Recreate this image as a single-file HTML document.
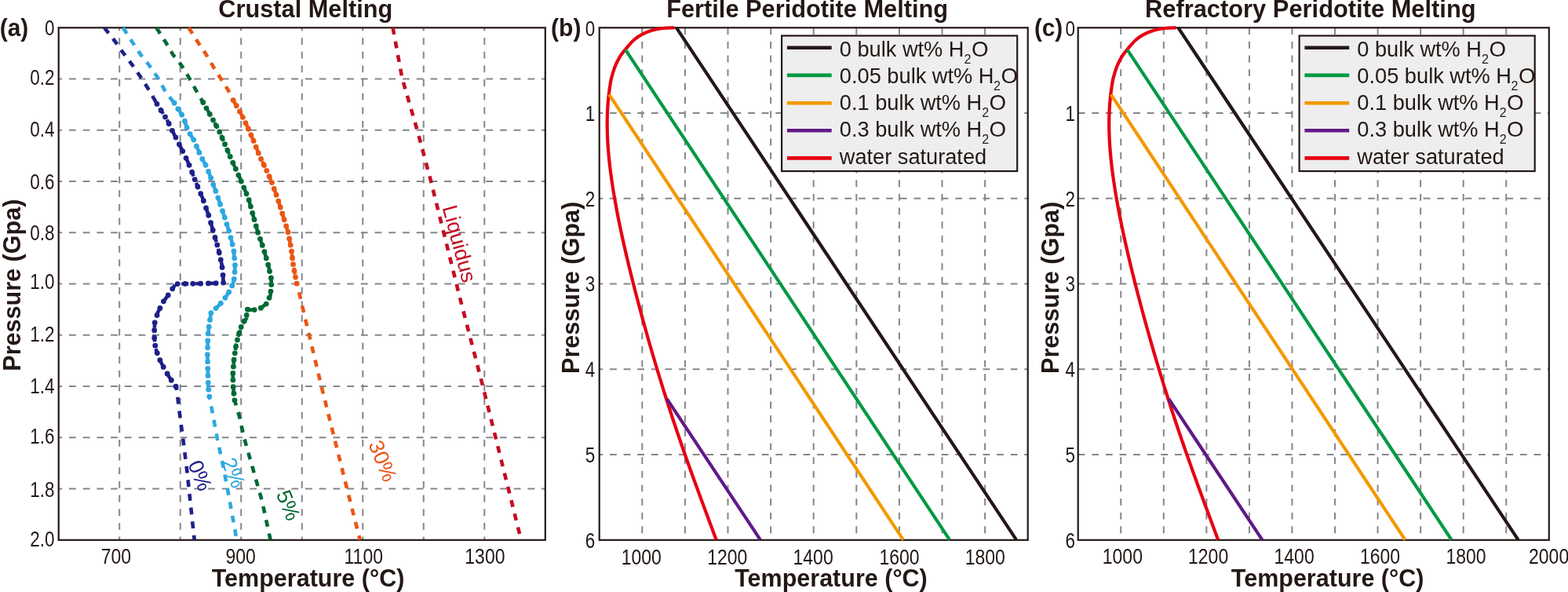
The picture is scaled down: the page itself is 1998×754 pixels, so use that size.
<!DOCTYPE html>
<html><head><meta charset="utf-8"><title>Melting curves</title>
<style>html,body{margin:0;padding:0;background:#fff;overflow:hidden;}svg{display:block;}</style>
</head><body>
<svg width="1998" height="754" viewBox="0 0 1998 754">
<rect width="1998" height="754" fill="#fff"/>
<g stroke="#85868a" stroke-width="2" fill="none">
<line x1="152.21" y1="35.3" x2="152.21" y2="687.8" stroke-dasharray="8.8 8.85" stroke-dashoffset="4.8"/>
<line x1="229.72" y1="35.3" x2="229.72" y2="687.8" stroke-dasharray="8.8 8.85" stroke-dashoffset="4.8"/>
<line x1="307.24" y1="35.3" x2="307.24" y2="687.8" stroke-dasharray="8.8 8.85" stroke-dashoffset="4.8"/>
<line x1="384.75" y1="35.3" x2="384.75" y2="687.8" stroke-dasharray="8.8 8.85" stroke-dashoffset="4.8"/>
<line x1="462.26" y1="35.3" x2="462.26" y2="687.8" stroke-dasharray="8.8 8.85" stroke-dashoffset="4.8"/>
<line x1="539.77" y1="35.3" x2="539.77" y2="687.8" stroke-dasharray="8.8 8.85" stroke-dashoffset="4.8"/>
<line x1="617.29" y1="35.3" x2="617.29" y2="687.8" stroke-dasharray="8.8 8.85" stroke-dashoffset="4.8"/>
<line x1="74.7" y1="100.55" x2="694.8" y2="100.55" stroke-dasharray="8.8 8.91" stroke-dashoffset="4.45"/>
<line x1="74.7" y1="165.8" x2="694.8" y2="165.8" stroke-dasharray="8.8 8.91" stroke-dashoffset="4.45"/>
<line x1="74.7" y1="231.05" x2="694.8" y2="231.05" stroke-dasharray="8.8 8.91" stroke-dashoffset="4.45"/>
<line x1="74.7" y1="296.3" x2="694.8" y2="296.3" stroke-dasharray="8.8 8.91" stroke-dashoffset="4.45"/>
<line x1="74.7" y1="361.55" x2="694.8" y2="361.55" stroke-dasharray="8.8 8.91" stroke-dashoffset="4.45"/>
<line x1="74.7" y1="426.8" x2="694.8" y2="426.8" stroke-dasharray="8.8 8.91" stroke-dashoffset="4.45"/>
<line x1="74.7" y1="492.05" x2="694.8" y2="492.05" stroke-dasharray="8.8 8.91" stroke-dashoffset="4.45"/>
<line x1="74.7" y1="557.3" x2="694.8" y2="557.3" stroke-dasharray="8.8 8.91" stroke-dashoffset="4.45"/>
<line x1="74.7" y1="622.55" x2="694.8" y2="622.55" stroke-dasharray="8.8 8.91" stroke-dashoffset="4.45"/>
</g>
<rect x="74.7" y="35.3" width="620.1" height="652.5" fill="none" stroke="#231815" stroke-width="2.2"/>
<g font-family='"Liberation Sans", Arial, Helvetica, sans-serif' font-size="27" >
<text fill="#1d2088" transform="translate(239,591) rotate(68)">0%</text>
<text fill="#2ea7e0" transform="translate(281.6,587.4) rotate(68)">2%</text>
<text fill="#006934" transform="translate(351.5,628.9) rotate(68)">5%</text>
<text fill="#ea5514" transform="translate(469,565.5) rotate(68)">30%</text>
<text fill="#c30d23" transform="translate(563.5,264.2) rotate(75)">Liquidus</text>
</g>
<g fill="none" stroke-width="4.6" stroke-dasharray="8.8 8.93">
<polyline stroke="#1d2088" points="133,35.3 147.5,53.9 156.8,67.1 168.8,83 180.7,100.3 190,114.9 200.6,133.4 212.5,152 219.2,165.8 227.1,181.2 236.4,199.8 242.4,213.3 249.1,231 258.4,253 265.8,274.3 272.1,296 278.2,316.7 282.8,337.9 284.4,353.8 284.6,360.5 254,361.2 223.9,361.6 215.8,373.9 207.9,384.5 201.2,397.7 197.2,411 196.4,426.9 198,442.8 202.5,456.1 209.2,469.4 217.1,482.6 224.8,493.2"/>
<polyline stroke="#1d2088" stroke-dashoffset="5.08" points="224.8,493.2 228.6,524.5 233.2,559 238.5,601.4 242.4,638.5 247.7,687.6"/>
<polyline stroke="#2ea7e0" points="156.8,35.3 168.8,53.9 179.4,69.8 190,83 201.9,100.3 211.2,117.5 221.8,130.8 233.8,149.4 239.1,165.8 247,178.5 256.3,199.8 263.7,213.3 270.3,231 278.2,253 285.4,274.3 292.3,296 297.6,316.7 299.5,337.9 298.7,353.8 296.8,361.8 291.5,372.4 284.4,383 276.9,391 269,397.6 267,411 264.9,426.9 264.4,450.8 264.9,474.7 265.4,493.2 267,506.5"/>
<polyline stroke="#2ea7e0" stroke-dashoffset="6.47" points="267,506.5 271.6,529.8 276.9,559 284.9,596.1 292.8,638.5 301.6,687.6"/>
<polyline stroke="#006934" points="199.3,35.3 211.2,53.9 220.5,69.8 231.1,83 241.7,100.3 249.7,114.9 259,130.8 269.6,149.4 278.8,165.8 285.5,181.2 293.4,199.8 299.5,213.3 307.4,231 316.7,253 322.5,274.3 328.6,296 335.8,316.7 341.9,337.9 345.4,353.8 345.8,361.8 344.5,376.5 339.2,387.1 331.3,393 322,395 314.5,394 314,405.7 308.6,412.3 304.7,424.3 300.7,440.2 298,458.8 296.7,477.3 297.2,493.2 298.8,509.2"/>
<polyline stroke="#006934" stroke-dashoffset="1.28" points="298.8,509.2 304.8,529.8 311.4,559 322,596.1 334,638.5 344.6,687.6"/>
<polyline stroke="#ea5514" points="240.4,35.3 252.3,53.9 262.9,69.8 272.2,85.7 281.5,100.3 290.8,114.9 297.4,128.1 306.7,144.1 314.6,160 323.9,181.2 331.3,200 337.9,213.3 345.9,231 353.8,253 360.5,274.3 367.1,296 371.1,316.7 373.7,337.9 377.7,359.2 378.2,361"/>
<polyline stroke="#ea5514" stroke-dashoffset="6.18" points="378.2,361 381.7,375 387,397.6 409.3,491 442.2,622.6 458.7,687.6"/>
<polyline stroke="#c30d23" points="500.6,35.3 512.5,100 531.6,165.5 549.1,230.8 586.2,380 615,491 647.8,622.6 664,687.6"/>
</g>
<g fill="#1d2088"><circle cx="200.01" cy="132.38" r="3.4"/><circle cx="205.25" cy="140.66" r="3.4"/><circle cx="210.53" cy="148.92" r="3.4"/><circle cx="215.18" cy="157.52" r="3.4"/><circle cx="219.47" cy="166.33" r="3.4"/><circle cx="223.95" cy="175.05" r="3.4"/><circle cx="228.39" cy="183.78" r="3.4"/><circle cx="232.77" cy="192.55" r="3.4"/><circle cx="237.09" cy="201.35" r="3.4"/><circle cx="241.07" cy="210.3" r="3.4"/><circle cx="244.71" cy="219.4" r="3.4"/><circle cx="248.18" cy="228.56" r="3.4"/><circle cx="251.9" cy="237.63" r="3.4"/><circle cx="255.72" cy="246.65" r="3.4"/><circle cx="259.36" cy="255.75" r="3.4"/><circle cx="262.57" cy="265.01" r="3.4"/><circle cx="265.79" cy="274.26" r="3.4"/><circle cx="268.52" cy="283.67" r="3.4"/><circle cx="271.25" cy="293.09" r="3.4"/><circle cx="274.01" cy="302.49" r="3.4"/><circle cx="276.78" cy="311.89" r="3.4"/><circle cx="279.21" cy="321.38" r="3.4"/><circle cx="281.29" cy="330.95" r="3.4"/><circle cx="283.07" cy="340.58" r="3.4"/><circle cx="284.05" cy="350.33" r="3.4"/><circle cx="284.59" cy="360.11" r="3.4"/><circle cx="275.19" cy="360.72" r="3.4"/><circle cx="265.4" cy="360.94" r="3.4"/><circle cx="255.6" cy="361.16" r="3.4"/><circle cx="245.8" cy="361.31" r="3.4"/><circle cx="236" cy="361.44" r="3.4"/><circle cx="226.2" cy="361.57" r="3.4"/><circle cx="219.78" cy="367.86" r="3.4"/><circle cx="214.26" cy="375.96" r="3.4"/><circle cx="208.41" cy="383.82" r="3.4"/><circle cx="203.85" cy="392.48" r="3.4"/><circle cx="200.06" cy="401.48" r="3.4"/><circle cx="197.24" cy="410.86" r="3.4"/><circle cx="196.71" cy="420.65" r="3.4"/><circle cx="196.75" cy="430.42" r="3.4"/><circle cx="197.74" cy="440.17" r="3.4"/><circle cx="200.29" cy="449.58" r="3.4"/><circle cx="203.81" cy="458.71" r="3.4"/><circle cx="208.22" cy="467.46" r="3.4"/><circle cx="213.12" cy="475.94" r="3.4"/><circle cx="218.3" cy="484.25" r="3.4"/><circle cx="224.06" cy="492.18" r="3.4"/></g>
<g fill="#2ea7e0"><circle cx="222.05" cy="131.19" r="3.4"/><circle cx="226.88" cy="138.67" r="3.4"/><circle cx="231.7" cy="146.15" r="3.4"/><circle cx="235.35" cy="154.19" r="3.4"/><circle cx="238.08" cy="162.66" r="3.4"/><circle cx="242.06" cy="170.55" r="3.4"/><circle cx="246.76" cy="178.11" r="3.4"/><circle cx="250.38" cy="186.24" r="3.4"/><circle cx="253.94" cy="194.39" r="3.4"/><circle cx="257.74" cy="202.43" r="3.4"/><circle cx="262.02" cy="210.23" r="3.4"/><circle cx="265.59" cy="218.36" r="3.4"/><circle cx="268.7" cy="226.7" r="3.4"/><circle cx="271.76" cy="235.06" r="3.4"/><circle cx="274.77" cy="243.44" r="3.4"/><circle cx="277.77" cy="251.81" r="3.4"/><circle cx="280.65" cy="260.24" r="3.4"/><circle cx="283.5" cy="268.67" r="3.4"/><circle cx="286.3" cy="277.12" r="3.4"/><circle cx="288.99" cy="285.6" r="3.4"/><circle cx="291.69" cy="294.08" r="3.4"/><circle cx="294.01" cy="302.67" r="3.4"/><circle cx="296.21" cy="311.29" r="3.4"/><circle cx="297.9" cy="320" r="3.4"/><circle cx="298.69" cy="328.87" r="3.4"/><circle cx="299.48" cy="337.73" r="3.4"/><circle cx="299.06" cy="346.62" r="3.4"/><circle cx="298.3" cy="355.46" r="3.4"/><circle cx="295.73" cy="363.94" r="3.4"/><circle cx="291.75" cy="371.9" r="3.4"/><circle cx="286.86" cy="379.33" r="3.4"/><circle cx="281.34" cy="386.27" r="3.4"/><circle cx="275.05" cy="392.55" r="3.4"/><circle cx="268.85" cy="398.61" r="3.4"/><circle cx="267.54" cy="407.41" r="3.4"/><circle cx="266.31" cy="416.23" r="3.4"/><circle cx="265.14" cy="425.05" r="3.4"/><circle cx="264.75" cy="433.93" r="3.4"/><circle cx="264.57" cy="442.83" r="3.4"/><circle cx="264.42" cy="451.73" r="3.4"/><circle cx="264.61" cy="460.63" r="3.4"/><circle cx="264.79" cy="469.52" r="3.4"/><circle cx="265" cy="478.42" r="3.4"/><circle cx="265.24" cy="487.32" r="3.4"/><circle cx="265.76" cy="496.19" r="3.4"/><circle cx="266.82" cy="505.03" r="3.4"/></g>
<g fill="#006934"><circle cx="258.75" cy="130.38" r="3.4"/><circle cx="263.02" cy="137.85" r="3.4"/><circle cx="267.27" cy="145.32" r="3.4"/><circle cx="271.51" cy="152.8" r="3.4"/><circle cx="275.72" cy="160.31" r="3.4"/><circle cx="279.72" cy="167.91" r="3.4"/><circle cx="283.15" cy="175.79" r="3.4"/><circle cx="286.56" cy="183.69" r="3.4"/><circle cx="289.92" cy="191.61" r="3.4"/><circle cx="293.28" cy="199.52" r="3.4"/><circle cx="296.82" cy="207.36" r="3.4"/><circle cx="300.35" cy="215.2" r="3.4"/><circle cx="303.85" cy="223.06" r="3.4"/><circle cx="307.36" cy="230.91" r="3.4"/><circle cx="310.71" cy="238.83" r="3.4"/><circle cx="314.06" cy="246.75" r="3.4"/><circle cx="317.18" cy="254.75" r="3.4"/><circle cx="319.44" cy="263.05" r="3.4"/><circle cx="321.7" cy="271.35" r="3.4"/><circle cx="324" cy="279.63" r="3.4"/><circle cx="326.33" cy="287.91" r="3.4"/><circle cx="328.67" cy="296.19" r="3.4"/><circle cx="331.49" cy="304.31" r="3.4"/><circle cx="334.32" cy="312.43" r="3.4"/><circle cx="336.93" cy="320.62" r="3.4"/><circle cx="339.31" cy="328.89" r="3.4"/><circle cx="341.68" cy="337.15" r="3.4"/><circle cx="343.58" cy="345.54" r="3.4"/><circle cx="345.41" cy="353.94" r="3.4"/><circle cx="345.74" cy="362.53" r="3.4"/><circle cx="344.98" cy="371.09" r="3.4"/><circle cx="343.08" cy="379.34" r="3.4"/><circle cx="339.23" cy="387.03" r="3.4"/><circle cx="332.37" cy="392.2" r="3.4"/><circle cx="324.2" cy="394.53" r="3.4"/><circle cx="315.71" cy="394.16" r="3.4"/><circle cx="314.18" cy="401.38" r="3.4"/><circle cx="311.29" cy="409.01" r="3.4"/><circle cx="307.26" cy="416.43" r="3.4"/><circle cx="304.62" cy="424.62" r="3.4"/><circle cx="302.52" cy="432.96" r="3.4"/><circle cx="300.54" cy="441.32" r="3.4"/><circle cx="299.3" cy="449.83" r="3.4"/><circle cx="298.07" cy="458.34" r="3.4"/><circle cx="297.43" cy="466.92" r="3.4"/><circle cx="296.83" cy="475.5" r="3.4"/><circle cx="296.91" cy="484.09" r="3.4"/><circle cx="297.18" cy="492.68" r="3.4"/><circle cx="298" cy="501.24" r="3.4"/><circle cx="298.97" cy="509.78" r="3.4"/></g>
<g fill="#ea5514"><circle cx="297.14" cy="127.57" r="3.4"/><circle cx="301.27" cy="134.77" r="3.4"/><circle cx="305.45" cy="141.94" r="3.4"/><circle cx="309.28" cy="149.3" r="3.4"/><circle cx="312.98" cy="156.73" r="3.4"/><circle cx="316.47" cy="164.26" r="3.4"/><circle cx="319.8" cy="171.86" r="3.4"/><circle cx="323.14" cy="179.46" r="3.4"/><circle cx="326.24" cy="187.15" r="3.4"/><circle cx="329.28" cy="194.88" r="3.4"/><circle cx="332.54" cy="202.5" r="3.4"/><circle cx="336.23" cy="209.94" r="3.4"/><circle cx="339.77" cy="217.44" r="3.4"/><circle cx="343.19" cy="225.01" r="3.4"/><circle cx="346.48" cy="232.62" r="3.4"/><circle cx="349.29" cy="240.43" r="3.4"/><circle cx="352.09" cy="248.25" r="3.4"/><circle cx="354.77" cy="256.1" r="3.4"/><circle cx="357.27" cy="264.02" r="3.4"/><circle cx="359.76" cy="271.93" r="3.4"/><circle cx="362.19" cy="279.87" r="3.4"/><circle cx="364.61" cy="287.81" r="3.4"/><circle cx="367.02" cy="295.75" r="3.4"/><circle cx="368.63" cy="303.89" r="3.4"/><circle cx="370.2" cy="312.04" r="3.4"/><circle cx="371.53" cy="320.23" r="3.4"/><circle cx="372.54" cy="328.47" r="3.4"/><circle cx="373.55" cy="336.71" r="3.4"/><circle cx="375.01" cy="344.87" r="3.4"/><circle cx="376.54" cy="353.03" r="3.4"/><circle cx="378.24" cy="361.15" r="3.4"/></g>
<g font-family='"Liberation Sans", Arial, Helvetica, sans-serif' font-size="27.7" fill="#231815">
<text transform="translate(69.45,45.2) scale(0.81,1)" text-anchor="end">0</text>
<text transform="translate(69.45,108.2) scale(0.81,1)" text-anchor="end">0.2</text>
<text transform="translate(69.45,174.4) scale(0.81,1)" text-anchor="end">0.4</text>
<text transform="translate(69.45,240.6) scale(0.81,1)" text-anchor="end">0.6</text>
<text transform="translate(69.45,305.8) scale(0.81,1)" text-anchor="end">0.8</text>
<text transform="translate(69.45,367.8) scale(0.81,1)" text-anchor="end">1.0</text>
<text transform="translate(69.45,435) scale(0.81,1)" text-anchor="end">1.2</text>
<text transform="translate(69.45,500.8) scale(0.81,1)" text-anchor="end">1.4</text>
<text transform="translate(69.45,564.8) scale(0.81,1)" text-anchor="end">1.6</text>
<text transform="translate(69.45,632.5) scale(0.81,1)" text-anchor="end">1.8</text>
<text transform="translate(69.45,696.2) scale(0.81,1)" text-anchor="end">2.0</text>
<text transform="translate(147.9,717.7) scale(0.83,1)" text-anchor="middle">700</text>
<text transform="translate(306.7,717.7) scale(0.83,1)" text-anchor="middle">900</text>
<text transform="translate(463.25,717.7) scale(0.83,1)" text-anchor="middle">1100</text>
<text transform="translate(617.9,717.7) scale(0.83,1)" text-anchor="middle">1300</text>
</g>
<g stroke="#85868a" stroke-width="2" fill="none">
<line x1="818.3" y1="35.3" x2="818.3" y2="687.8" stroke-dasharray="8.8 8.84" stroke-dashoffset="0"/>
<line x1="872.9" y1="35.3" x2="872.9" y2="687.8" stroke-dasharray="8.8 8.84" stroke-dashoffset="0"/>
<line x1="927.5" y1="35.3" x2="927.5" y2="687.8" stroke-dasharray="8.8 8.84" stroke-dashoffset="0"/>
<line x1="982.1" y1="35.3" x2="982.1" y2="687.8" stroke-dasharray="8.8 8.84" stroke-dashoffset="0"/>
<line x1="1036.7" y1="35.3" x2="1036.7" y2="687.8" stroke-dasharray="8.8 8.84" stroke-dashoffset="0"/>
<line x1="1091.3" y1="35.3" x2="1091.3" y2="687.8" stroke-dasharray="8.8 8.84" stroke-dashoffset="0"/>
<line x1="1145.9" y1="35.3" x2="1145.9" y2="687.8" stroke-dasharray="8.8 8.84" stroke-dashoffset="0"/>
<line x1="1200.5" y1="35.3" x2="1200.5" y2="687.8" stroke-dasharray="8.8 8.84" stroke-dashoffset="0"/>
<line x1="1255.1" y1="35.3" x2="1255.1" y2="687.8" stroke-dasharray="8.8 8.84" stroke-dashoffset="0"/>
<line x1="763.7" y1="144.05" x2="1309.7" y2="144.05" stroke-dasharray="8.8 8.81" stroke-dashoffset="4.3"/>
<line x1="763.7" y1="252.8" x2="1309.7" y2="252.8" stroke-dasharray="8.8 8.81" stroke-dashoffset="4.3"/>
<line x1="763.7" y1="361.55" x2="1309.7" y2="361.55" stroke-dasharray="8.8 8.81" stroke-dashoffset="4.3"/>
<line x1="763.7" y1="470.3" x2="1309.7" y2="470.3" stroke-dasharray="8.8 8.81" stroke-dashoffset="4.3"/>
<line x1="763.7" y1="579.05" x2="1309.7" y2="579.05" stroke-dasharray="8.8 8.81" stroke-dashoffset="4.3"/>
</g>
<rect x="763.7" y="35.3" width="546" height="652.5" fill="none" stroke="#231815" stroke-width="2.2"/>
<path d="M859.1,35.4 C856.68,35.5 849.23,35.47 844.6,36 C839.97,36.53 835.73,37.28 831.3,38.6 C826.87,39.92 821.98,41.8 818,43.9 C814.02,46 810.85,48.1 807.4,51.2 C803.95,54.3 800.23,58.97 797.3,62.5 C794.37,66.03 792.13,68.53 789.8,72.4 C787.47,76.27 785.09,81.18 783.3,85.7 C781.51,90.22 780.1,95.45 779.08,99.5 C778.06,103.55 777.78,106.25 777.2,110 C776.62,113.75 776.04,118 775.59,122 C775.14,126 774.78,130 774.5,134 C774.21,138 774.01,142 773.88,146 C773.75,150 773.69,154 773.69,158 C773.7,162 773.77,166 773.9,170 C774.02,174 774.21,178 774.45,182 C774.69,186 774.98,190 775.32,194 C775.66,198 776.05,202 776.47,206 C776.9,210 777.37,214 777.88,218 C778.39,222 778.94,226 779.52,230 C780.1,234 780.71,238 781.36,242 C782,246 782.68,250 783.38,254 C784.08,258 784.81,262 785.56,266 C786.31,270 787.09,274 787.89,278 C788.68,282 789.51,286 790.34,290 C791.18,294 792.04,298 792.92,302 C793.79,306 794.69,310 795.6,314 C796.5,318 797.43,322 798.37,326 C799.31,330 800.26,334 801.23,338 C802.2,342 803.18,346 804.17,350 C805.16,354 806.17,358 807.18,362 C808.2,366 809.23,370 810.26,374 C811.3,378 812.35,382 813.41,386 C814.47,390 815.55,394 816.63,398 C817.71,402 818.8,406 819.9,410 C821.01,414 822.12,418 823.24,422 C824.37,426 825.5,430 826.64,434 C827.79,438 828.94,442 830.1,446 C831.27,450 832.44,454 833.63,458 C834.82,462 836.01,466 837.22,470 C838.43,474 839.64,478 840.87,482 C842.1,486 843.34,490 844.59,494 C845.84,498 847.11,502 848.38,506 C849.65,510 850.94,514 852.23,518 C853.53,522 854.84,526 856.15,530 C857.47,534 858.8,538 860.14,542 C861.48,546 862.84,550 864.2,554 C865.56,558 866.94,562 868.32,566 C869.71,570 871.1,574 872.51,578 C873.91,582 875.33,586 876.75,590 C878.18,594 879.61,598 881.05,602 C882.49,606 883.95,610 885.4,614 C886.86,618 888.33,622 889.8,626 C891.27,630 892.74,634 894.23,638 C895.71,642 897.19,646 898.68,650 C900.16,654 901.66,658 903.14,662 C904.63,666 906.03,669.73 907.61,674 C909.2,678.27 911.81,685.33 912.65,687.6" fill="none" stroke="#e60012" stroke-width="4.2"/>
<line x1="797" y1="63.3" x2="1210.1" y2="687.6" stroke="#009944" stroke-width="4.2"/>
<line x1="776.2" y1="120.3" x2="1151" y2="687.6" stroke="#f39800" stroke-width="4.2"/>
<line x1="849.9" y1="508.2" x2="968.9" y2="687.6" stroke="#601986" stroke-width="4.2"/>
<line x1="861.9" y1="35.3" x2="1295.1" y2="687.6" stroke="#231815" stroke-width="4.2"/>
<rect x="996.1" y="45.5" width="300.1" height="172.5" fill="#eeeeee" stroke="#231815" stroke-width="2.2"/>
<line x1="1002.9" y1="60.7" x2="1059.7" y2="60.7" stroke="#231815" stroke-width="4.6"/>
<line x1="1002.9" y1="95.9" x2="1059.7" y2="95.9" stroke="#009944" stroke-width="4.6"/>
<line x1="1002.9" y1="131.2" x2="1059.7" y2="131.2" stroke="#f39800" stroke-width="4.6"/>
<line x1="1002.9" y1="166.2" x2="1059.7" y2="166.2" stroke="#601986" stroke-width="4.6"/>
<line x1="1002.9" y1="201.4" x2="1059.7" y2="201.4" stroke="#e60012" stroke-width="4.6"/>
<g font-family='"Liberation Sans", Arial, Helvetica, sans-serif' font-size="27.7" fill="#231815">
<text x="1069.8" y="71.7" textLength="158.64" lengthAdjust="spacingAndGlyphs">0 bulk wt% H</text>
<text x="1228.5" y="80.6" font-size="16">2</text>
<text x="1237.9" y="71.7">O</text>
<text x="1069.8" y="105.6" textLength="196.74" lengthAdjust="spacingAndGlyphs">0.05 bulk wt% H</text>
<text x="1266.1" y="114.5" font-size="16">2</text>
<text x="1275.5" y="105.6">O</text>
<text x="1069.8" y="139.9" textLength="181.44" lengthAdjust="spacingAndGlyphs">0.1 bulk wt% H</text>
<text x="1251.2" y="148.8" font-size="16">2</text>
<text x="1260.6" y="139.9">O</text>
<text x="1069.8" y="174.4" textLength="181.44" lengthAdjust="spacingAndGlyphs">0.3 bulk wt% H</text>
<text x="1251.2" y="183.3" font-size="16">2</text>
<text x="1260.6" y="174.4">O</text>
<text x="1069.8" y="208.8" textLength="187.35" lengthAdjust="spacingAndGlyphs">water saturated</text>
</g>
<g font-family='"Liberation Sans", Arial, Helvetica, sans-serif' font-size="27.7" fill="#231815">
<text transform="translate(758.35,45.5) scale(0.81,1)" text-anchor="end">0</text>
<text transform="translate(758.35,153.8) scale(0.81,1)" text-anchor="end">1</text>
<text transform="translate(758.35,262.5) scale(0.81,1)" text-anchor="end">2</text>
<text transform="translate(758.35,371.2) scale(0.81,1)" text-anchor="end">3</text>
<text transform="translate(758.35,480) scale(0.81,1)" text-anchor="end">4</text>
<text transform="translate(758.35,588.8) scale(0.81,1)" text-anchor="end">5</text>
<text transform="translate(758.35,697.5) scale(0.81,1)" text-anchor="end">6</text>
<text transform="translate(817.3,718.9) scale(0.83,1)" text-anchor="middle">1000</text>
<text transform="translate(926.7,718.9) scale(0.83,1)" text-anchor="middle">1200</text>
<text transform="translate(1036.1,718.9) scale(0.83,1)" text-anchor="middle">1400</text>
<text transform="translate(1145.95,718.9) scale(0.83,1)" text-anchor="middle">1600</text>
<text transform="translate(1255.3,718.9) scale(0.83,1)" text-anchor="middle">1800</text>
</g>
<g stroke="#85868a" stroke-width="2" fill="none">
<line x1="1428.25" y1="35.3" x2="1428.25" y2="687.8" stroke-dasharray="8.8 8.84" stroke-dashoffset="0"/>
<line x1="1482.81" y1="35.3" x2="1482.81" y2="687.8" stroke-dasharray="8.8 8.84" stroke-dashoffset="0"/>
<line x1="1537.36" y1="35.3" x2="1537.36" y2="687.8" stroke-dasharray="8.8 8.84" stroke-dashoffset="0"/>
<line x1="1591.92" y1="35.3" x2="1591.92" y2="687.8" stroke-dasharray="8.8 8.84" stroke-dashoffset="0"/>
<line x1="1646.47" y1="35.3" x2="1646.47" y2="687.8" stroke-dasharray="8.8 8.84" stroke-dashoffset="0"/>
<line x1="1701.03" y1="35.3" x2="1701.03" y2="687.8" stroke-dasharray="8.8 8.84" stroke-dashoffset="0"/>
<line x1="1755.58" y1="35.3" x2="1755.58" y2="687.8" stroke-dasharray="8.8 8.84" stroke-dashoffset="0"/>
<line x1="1810.14" y1="35.3" x2="1810.14" y2="687.8" stroke-dasharray="8.8 8.84" stroke-dashoffset="0"/>
<line x1="1864.69" y1="35.3" x2="1864.69" y2="687.8" stroke-dasharray="8.8 8.84" stroke-dashoffset="0"/>
<line x1="1919.25" y1="35.3" x2="1919.25" y2="687.8" stroke-dasharray="8.8 8.84" stroke-dashoffset="0"/>
<line x1="1373.7" y1="144.05" x2="1973.8" y2="144.05" stroke-dasharray="8.8 8.8" stroke-dashoffset="0"/>
<line x1="1373.7" y1="252.8" x2="1973.8" y2="252.8" stroke-dasharray="8.8 8.8" stroke-dashoffset="0"/>
<line x1="1373.7" y1="361.55" x2="1973.8" y2="361.55" stroke-dasharray="8.8 8.8" stroke-dashoffset="0"/>
<line x1="1373.7" y1="470.3" x2="1973.8" y2="470.3" stroke-dasharray="8.8 8.8" stroke-dashoffset="0"/>
<line x1="1373.7" y1="579.05" x2="1973.8" y2="579.05" stroke-dasharray="8.8 8.8" stroke-dashoffset="0"/>
</g>
<rect x="1373.7" y="35.3" width="600.1" height="652.5" fill="none" stroke="#231815" stroke-width="2.2"/>
<path d="M1498.6,35.4 C1496.18,35.5 1488.73,35.47 1484.1,36 C1479.47,36.53 1475.23,37.28 1470.8,38.6 C1466.37,39.92 1461.48,41.8 1457.5,43.9 C1453.52,46 1450.35,48.1 1446.9,51.2 C1443.45,54.3 1439.73,58.97 1436.8,62.5 C1433.87,66.03 1431.63,68.53 1429.3,72.4 C1426.97,76.27 1424.59,81.18 1422.8,85.7 C1421.01,90.22 1419.6,95.45 1418.58,99.5 C1417.56,103.55 1417.28,106.25 1416.7,110 C1416.12,113.75 1415.54,118 1415.09,122 C1414.64,126 1414.28,130 1414,134 C1413.71,138 1413.51,142 1413.38,146 C1413.25,150 1413.19,154 1413.19,158 C1413.2,162 1413.27,166 1413.4,170 C1413.52,174 1413.71,178 1413.95,182 C1414.19,186 1414.48,190 1414.82,194 C1415.16,198 1415.55,202 1415.97,206 C1416.4,210 1416.87,214 1417.38,218 C1417.89,222 1418.44,226 1419.02,230 C1419.6,234 1420.21,238 1420.86,242 C1421.5,246 1422.18,250 1422.88,254 C1423.58,258 1424.31,262 1425.06,266 C1425.81,270 1426.59,274 1427.39,278 C1428.18,282 1429.01,286 1429.84,290 C1430.68,294 1431.54,298 1432.42,302 C1433.29,306 1434.19,310 1435.1,314 C1436,318 1436.93,322 1437.87,326 C1438.81,330 1439.76,334 1440.73,338 C1441.7,342 1442.68,346 1443.67,350 C1444.66,354 1445.67,358 1446.68,362 C1447.7,366 1448.73,370 1449.76,374 C1450.8,378 1451.85,382 1452.91,386 C1453.97,390 1455.05,394 1456.13,398 C1457.21,402 1458.3,406 1459.4,410 C1460.51,414 1461.62,418 1462.74,422 C1463.87,426 1465,430 1466.14,434 C1467.29,438 1468.44,442 1469.6,446 C1470.77,450 1471.94,454 1473.13,458 C1474.32,462 1475.51,466 1476.72,470 C1477.93,474 1479.14,478 1480.37,482 C1481.6,486 1482.84,490 1484.09,494 C1485.34,498 1486.61,502 1487.88,506 C1489.15,510 1490.44,514 1491.73,518 C1493.03,522 1494.34,526 1495.65,530 C1496.97,534 1498.3,538 1499.64,542 C1500.98,546 1502.34,550 1503.7,554 C1505.06,558 1506.44,562 1507.82,566 C1509.21,570 1510.6,574 1512.01,578 C1513.41,582 1514.83,586 1516.25,590 C1517.68,594 1519.11,598 1520.55,602 C1521.99,606 1523.45,610 1524.9,614 C1526.36,618 1527.83,622 1529.3,626 C1530.77,630 1532.24,634 1533.73,638 C1535.21,642 1536.69,646 1538.18,650 C1539.66,654 1541.16,658 1542.64,662 C1544.13,666 1545.53,669.73 1547.11,674 C1548.7,678.27 1551.31,685.33 1552.15,687.6" fill="none" stroke="#e60012" stroke-width="4.2"/>
<line x1="1436.5" y1="63.3" x2="1849.6" y2="687.6" stroke="#009944" stroke-width="4.2"/>
<line x1="1415.7" y1="120.3" x2="1790.5" y2="687.6" stroke="#f39800" stroke-width="4.2"/>
<line x1="1489.4" y1="508.2" x2="1608.4" y2="687.6" stroke="#601986" stroke-width="4.2"/>
<line x1="1501.4" y1="35.3" x2="1934.6" y2="687.6" stroke="#231815" stroke-width="4.2"/>
<rect x="1655.6" y="45.5" width="300.1" height="172.5" fill="#eeeeee" stroke="#231815" stroke-width="2.2"/>
<line x1="1662.4" y1="60.7" x2="1719.2" y2="60.7" stroke="#231815" stroke-width="4.6"/>
<line x1="1662.4" y1="95.9" x2="1719.2" y2="95.9" stroke="#009944" stroke-width="4.6"/>
<line x1="1662.4" y1="131.2" x2="1719.2" y2="131.2" stroke="#f39800" stroke-width="4.6"/>
<line x1="1662.4" y1="166.2" x2="1719.2" y2="166.2" stroke="#601986" stroke-width="4.6"/>
<line x1="1662.4" y1="201.4" x2="1719.2" y2="201.4" stroke="#e60012" stroke-width="4.6"/>
<g font-family='"Liberation Sans", Arial, Helvetica, sans-serif' font-size="27.7" fill="#231815">
<text x="1729.3" y="71.7" textLength="158.64" lengthAdjust="spacingAndGlyphs">0 bulk wt% H</text>
<text x="1888" y="80.6" font-size="16">2</text>
<text x="1897.4" y="71.7">O</text>
<text x="1729.3" y="105.6" textLength="196.74" lengthAdjust="spacingAndGlyphs">0.05 bulk wt% H</text>
<text x="1925.6" y="114.5" font-size="16">2</text>
<text x="1935" y="105.6">O</text>
<text x="1729.3" y="139.9" textLength="181.44" lengthAdjust="spacingAndGlyphs">0.1 bulk wt% H</text>
<text x="1910.7" y="148.8" font-size="16">2</text>
<text x="1920.1" y="139.9">O</text>
<text x="1729.3" y="174.4" textLength="181.44" lengthAdjust="spacingAndGlyphs">0.3 bulk wt% H</text>
<text x="1910.7" y="183.3" font-size="16">2</text>
<text x="1920.1" y="174.4">O</text>
<text x="1729.3" y="208.8" textLength="187.35" lengthAdjust="spacingAndGlyphs">water saturated</text>
</g>
<g font-family='"Liberation Sans", Arial, Helvetica, sans-serif' font-size="27.7" fill="#231815">
<text transform="translate(1369.95,45.5) scale(0.81,1)" text-anchor="end">0</text>
<text transform="translate(1369.95,153.8) scale(0.81,1)" text-anchor="end">1</text>
<text transform="translate(1369.95,262.5) scale(0.81,1)" text-anchor="end">2</text>
<text transform="translate(1369.95,371.2) scale(0.81,1)" text-anchor="end">3</text>
<text transform="translate(1369.95,480) scale(0.81,1)" text-anchor="end">4</text>
<text transform="translate(1369.95,588.8) scale(0.81,1)" text-anchor="end">5</text>
<text transform="translate(1369.95,697.5) scale(0.81,1)" text-anchor="end">6</text>
<text transform="translate(1430.35,717.8) scale(0.83,1)" text-anchor="middle">1000</text>
<text transform="translate(1539.6,717.8) scale(0.83,1)" text-anchor="middle">1200</text>
<text transform="translate(1649.1,717.8) scale(0.83,1)" text-anchor="middle">1400</text>
<text transform="translate(1758.5,717.8) scale(0.83,1)" text-anchor="middle">1600</text>
<text transform="translate(1868,717.8) scale(0.83,1)" text-anchor="middle">1800</text>
<text transform="translate(1973.6,717.8) scale(0.83,1)" text-anchor="middle">2000</text>
</g>
<g font-family='"Liberation Sans", Arial, Helvetica, sans-serif' font-weight="bold" font-size="31.2" fill="#231815">
<text x="278.3" y="22.1" textLength="222" lengthAdjust="spacingAndGlyphs">Crustal Melting</text>
<text x="849.2" y="22.1" textLength="358.9" lengthAdjust="spacingAndGlyphs">Fertile Peridotite Melting</text>
<text x="1459" y="22.1" textLength="421.6" lengthAdjust="spacingAndGlyphs">Refractory Peridotite Melting</text>
<text x="-0.3" y="45.5" textLength="36.5" lengthAdjust="spacingAndGlyphs">(a)</text>
<text x="702" y="45.5" textLength="38.5" lengthAdjust="spacingAndGlyphs">(b)</text>
<text x="1317.9" y="45.5" textLength="36.4" lengthAdjust="spacingAndGlyphs">(c)</text>
<text x="269.7" y="747.2" textLength="245.7" lengthAdjust="spacingAndGlyphs">Temperature (°C)</text>
<text x="936.2" y="747.4" textLength="245.6" lengthAdjust="spacingAndGlyphs">Temperature (°C)</text>
<text x="1568.8" y="747.2" textLength="245.6" lengthAdjust="spacingAndGlyphs">Temperature (°C)</text>
<text transform="translate(26,472.7) rotate(-90)" textLength="219.1" lengthAdjust="spacingAndGlyphs">Pressure (Gpa)</text>
<text transform="translate(737.9,476) rotate(-90)" textLength="219.2" lengthAdjust="spacingAndGlyphs">Pressure (Gpa)</text>
<text transform="translate(1348.9,476) rotate(-90)" textLength="219.2" lengthAdjust="spacingAndGlyphs">Pressure (Gpa)</text>
</g>
</svg>
</body></html>
